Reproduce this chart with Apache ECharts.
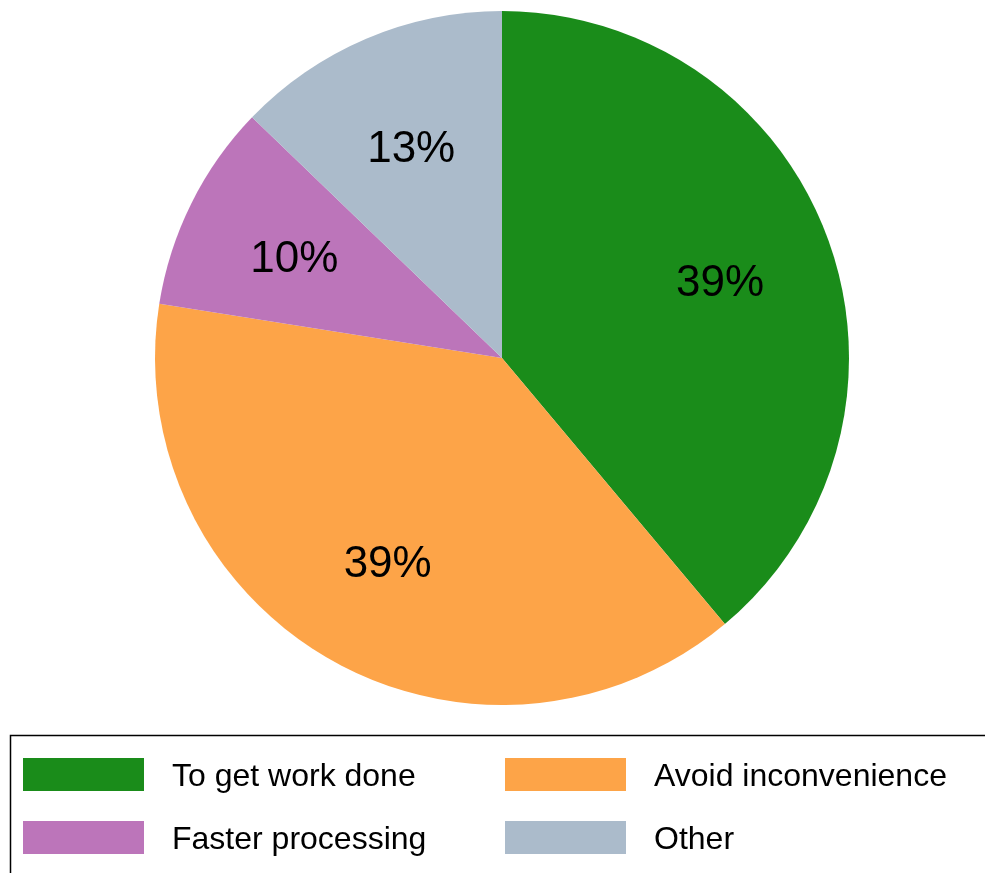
<!DOCTYPE html>
<html><head><meta charset="utf-8">
<script src="https://cdn.jsdelivr.net/npm/echarts@6/dist/echarts.min.js"></script>
<style>html,body{margin:0;padding:0;background:#fff}#c{width:985px;height:873px}</style>
</head><body><div id="c"></div>
<script>
const categories = ['To get work done', 'Avoid inconvenience', 'Faster processing', 'Other'];
const values = [38.9, 38.6, 9.7, 12.8];
const colors = ['#1A8C1A', '#FDA448', '#BC75BA', '#ABBBCB'];
const legendCol1 = ['To get work done', 'Faster processing'];
const legendCol2 = ['Avoid inconvenience', 'Other'];

const FONT = "'Liberation Sans', Arial, Helvetica, sans-serif";
const chart = echarts.init(document.getElementById('c'), null, {renderer: 'canvas'});
const data = categories.map((n, i) => ({name: n, value: values[i], itemStyle: {color: colors[i]}}));
const R = 347;
// icon-only legends
const iconLegend = {
  orient: 'vertical', padding: 0, itemWidth: 121, itemHeight: 33, itemGap: 30,
  icon: 'rect', selectedMode: false, formatter: () => '',
  textStyle: {fontFamily: FONT, fontSize: 10, lineHeight: 10}
};
// text-only legends
const textLegend = {
  orient: 'vertical', padding: 0, itemWidth: 0, itemHeight: 33, itemGap: 30,
  icon: 'rect', selectedMode: false, itemStyle: {opacity: 0},
  textStyle: {fontFamily: FONT, fontSize: 32, color: '#000', lineHeight: 33}
};
chart.setOption({
  animation: false,
  backgroundColor: '#fff',
  color: colors,
  legend: [
    Object.assign({}, iconLegend, {data: legendCol1, left: 23, top: 758}),
    Object.assign({}, iconLegend, {data: legendCol2, left: 505, top: 758}),
    Object.assign({}, textLegend, {data: legendCol1, left: 167, top: 761}),
    Object.assign({}, textLegend, {data: legendCol2, left: 649, top: 761})
  ],
  graphic: [{
    type: 'rect', shape: {x: 10.5, y: 735.5, width: 1000, height: 300},
    style: {fill: 'none', stroke: '#000', lineWidth: 1.5}, silent: true
  }],
  series: [
    {
      type: 'pie', center: [502, 358], radius: [0, R], startAngle: 90, clockwise: true,
      data: data, label: {show: false}, labelLine: {show: false},
      itemStyle: {borderWidth: 0}, emphasis: {disabled: true}, silent: true
    },
    {
      type: 'pie', center: [502, 358], radius: [0.32 * R, R], startAngle: 90, clockwise: true,
      data: data.map(d => ({name: d.name, value: d.value, itemStyle: {color: 'rgba(0,0,0,0)'}})),
      label: {show: true, position: 'inside', fontFamily: FONT, fontSize: 44, color: '#000',
        formatter: p => Math.round(p.percent) + '%'},
      labelLayout: {dy: 5},
      labelLine: {show: false}, emphasis: {disabled: true}, silent: true
    }
  ]
});
</script></body></html>
